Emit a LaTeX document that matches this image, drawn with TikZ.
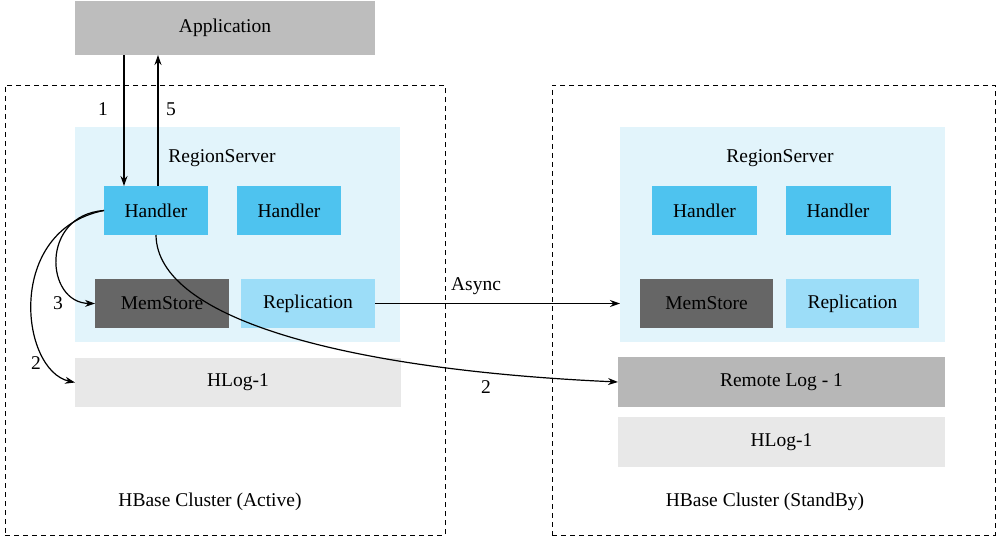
\documentclass[tikz,border=0pt]{standalone}
\usepackage{fontspec}
\setmainfont{Liberation Serif}
\usepackage{xcolor}
\usetikzlibrary{arrows.meta,positioning}

\definecolor{appgray}{HTML}{BDBDBD}
\definecolor{rsblue}{HTML}{E2F4FB}
\definecolor{handblue}{HTML}{4EC3EF}
\definecolor{repblue}{HTML}{9CDDF8}
\definecolor{memgray}{HTML}{666666}
\definecolor{loggray}{HTML}{E8E8E8}
\definecolor{remgray}{HTML}{B7B7B7}

\begin{document}
\begin{tikzpicture}[x=1pt, y=-1pt,
		font=\fontsize{19.5}{22}\selectfont,
		blk/.style={inner sep=0pt, outer sep=0pt, minimum height=49pt},
		cluster/.style={draw, dash pattern=on 5pt off 4pt, line width=1pt, inner sep=0pt, outer sep=0pt},
		arr/.style={line width=1.2pt, -{Stealth[length=10pt, width=7pt]}}]
			
			\useasboundingbox (0,0) rectangle (997,546);
			
			% clusters
			\node[cluster, minimum width=440pt, minimum height=450pt] (lcl) at (225,310) {};
			\node[cluster, minimum width=443pt, minimum height=450pt] (rcl) at (773.5,310) {};
			\node (lname) at (210,502) {HBase Cluster (Active)};
			\node (rname) at (765,502) {HBase Cluster (StandBy)};
			
			\node[blk, fill=appgray, minimum width=300pt, minimum height=54pt] (app) at (225,28) {Application};
			
			% active side
			\node[blk, fill=rsblue, minimum width=325pt, minimum height=215pt] (lrs) at (237.5,234.5) {};
			\node (lrslbl) at (222,158) {RegionServer};
			\node[blk, fill=handblue, minimum width=104pt] (lh1) at (156,210.5) {Handler};
			\node[blk, fill=handblue, minimum width=104pt] (lh2) at (289,210.5) {Handler};
			\node[blk, fill=memgray, minimum width=134pt, text=black] (lmem) at (162,303.5) {MemStore};
			\node[blk, fill=repblue, minimum width=134pt] (lrep) at (308,303.5) {Replication};
			\node[blk, fill=loggray, minimum width=326pt] (llog) at (238,382.5) {HLog-1};
			
			% standby side
			\node[blk, fill=rsblue, minimum width=325pt, minimum height=215pt] (rrs) at (782.5,234.5) {};
			\node (rrslbl) at (780,158) {RegionServer};
			\node[blk, fill=handblue, minimum width=105pt] (rh1) at (704.5,210.5) {Handler};
			\node[blk, fill=handblue, minimum width=105pt] (rh2) at (838,210.5) {Handler};
			\node[blk, fill=memgray, minimum width=133pt, text=black] (rmem) at (706.5,303.5) {MemStore};
			\node[blk, fill=repblue, minimum width=133pt] (rrep) at (852.5,303.5) {Replication};
			\node[blk, fill=remgray, minimum width=327pt, minimum height=50pt] (rlog) at (781.5,382) {Remote Log - 1};
			\node[blk, fill=loggray, minimum width=327pt, minimum height=50pt] (rhlog) at (781.5,442) {HLog-1};
			
			% request / response
			\coordinate (inx) at (124,0);
			\coordinate (outx) at (158,0);
			\draw[arr] (app.south -| inx) -- (lh1.north -| inx);
			\draw[arr] (lh1.north -| outx) -- (app.south -| outx);
			\node (n1) at (103,109) {1};
			\node (n5) at (171,109) {5};
			
			% writes
			\draw[arr] (lh1.west) .. controls (40,215) and (45,303) .. (lmem.west);
			\draw[arr] (lh1.west) .. controls (5,230) and (20,370) .. (llog.west);
			\draw[arr] (lh1.south) .. controls (157,320) and (350,370) .. (rlog.west);
			\node (n3) at (58,303) {3};
			\node (n2a) at (36,363) {2};
			\node (n2b) at (486,387) {2};
			
			\draw[arr] (lrep.east) -- (lrep.east -| rrs.west);
			\node (async) at (476,286) {Async};
		\end{tikzpicture}
\end{document}
